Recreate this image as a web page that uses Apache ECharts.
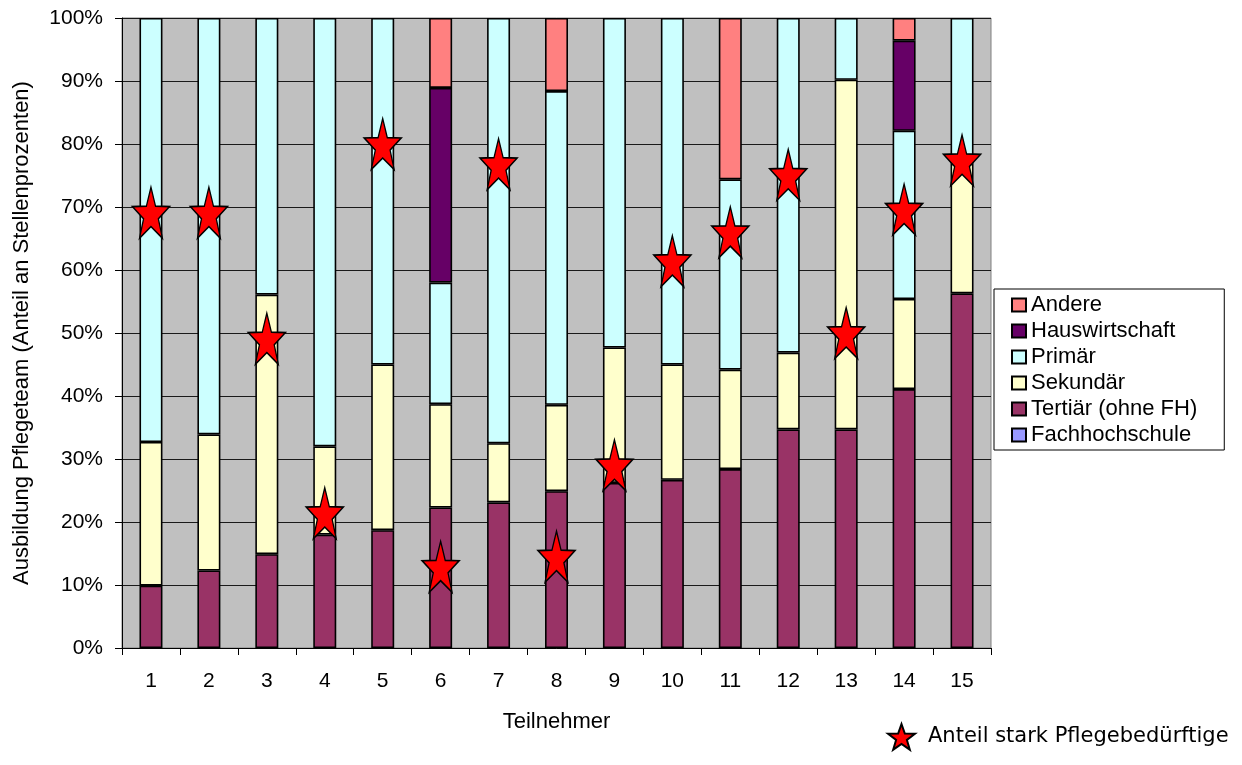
<!DOCTYPE html>
<html>
<head>
<meta charset="utf-8">
<script src="https://cdn.jsdelivr.net/npm/echarts@6/dist/echarts.min.js"></script>
<style>
  html, body { margin: 0; padding: 0; background: #ffffff; }
  #chart { width: 1242px; height: 765px; }
</style>
</head>
<body>
<div id="chart"></div>
<script>
// Teilnehmer 1..15
const participants = ['1','2','3','4','5','6','7','8','9','10','11','12','13','14','15'];

// Ausbildung Pflegeteam, Anteil an Stellenprozenten (%)
const fachhochschule = [0,0,0,0,0,0,0,0,0,0,0,0,0,0,0];
const tertiaer       = [9.9,12.3,14.9,18.0,18.7,22.3,23.1,24.9,26.2,26.7,28.4,34.7,34.7,41.1,56.3];
const sekundaer      = [22.8,21.6,41.2,14.0,26.3,16.4,9.4,13.7,21.5,18.3,15.8,12.2,55.5,14.3,20.6];
const primaer        = [67.3,66.1,43.9,68.0,55.0,19.3,67.5,49.8,52.3,55.0,30.2,53.1,9.8,26.7,23.1];
const hauswirtschaft = [0,0,0,0,0,30.9,0,0,0,0,0,0,0,14.3,0];
const andere         = [0,0,0,0,0,11.1,0,11.6,0,0,25.6,0,0,3.6,0];

// Anteil stark Pflegebedürftige (%)
const pflegebeduerftige = [69.1,69.1,49.1,21.4,80.0,12.9,76.8,14.5,29.0,61.4,66.0,75.1,50.0,69.6,77.4];

const yTicks = [0,10,20,30,40,50,60,70,80,90,100];

// five-pointed star outline as an SVG path
function starPath(inner) {
  const pts = [];
  for (let i = 0; i < 10; i++) {
    const a = (-90 + 36 * i) * Math.PI / 180;
    const r = i % 2 === 0 ? 1 : inner;
    pts.push((r * Math.cos(a)).toFixed(4) + ' ' + (r * Math.sin(a)).toFixed(4));
  }
  return 'path://M' + pts.join(' L') + ' Z';
}
const STAR = starPath(0.4);

const stackSeries = [
  { name: 'Fachhochschule',    data: fachhochschule, color: '#9999ff' },
  { name: 'Tertiär (ohne FH)', data: tertiaer,       color: '#993366' },
  { name: 'Sekundär',          data: sekundaer,      color: '#ffffcc' },
  { name: 'Primär',            data: primaer,        color: '#ccffff' },
  { name: 'Hauswirtschaft',    data: hauswirtschaft, color: '#660066' },
  { name: 'Andere',            data: andere,         color: '#ff8080' }
];

const font = 'Liberation Sans, Arial, Helvetica, sans-serif';

const series = stackSeries.map(s => ({
  name: s.name,
  type: 'bar',
  stack: 'ausbildung',
  barWidth: 23,
  data: s.data.map(v => (v === 0 ? null : v)),
  itemStyle: { color: s.color, borderColor: '#000000', borderWidth: 1.6 }
}));

series.push({
  name: 'Anteil stark Pflegebedürftige',
  type: 'scatter',
  z: 5,
  symbol: STAR,
  symbolSize: [37, 51],
  data: pflegebeduerftige,
  itemStyle: { color: '#ff0000', borderColor: '#000000', borderWidth: 1.5, opacity: 1 }
});

const chart = echarts.init(document.getElementById('chart'), null, { renderer: 'canvas' });
chart.setOption({
  animation: false,
  backgroundColor: '#ffffff',
  grid: {
    left: 122, right: 251, top: 18, bottom: 117,
    show: true, backgroundColor: '#c0c0c0', borderColor: '#808080', borderWidth: 1
  },
  xAxis: {
    type: 'category',
    data: participants,
    name: 'Teilnehmer',
    nameLocation: 'middle',
    nameGap: 63,
    nameTextStyle: { fontFamily: font, fontSize: 22, color: '#000' },
    axisLine: { lineStyle: { color: '#000', width: 1 } },
    axisTick: { show: true, length: 7, lineStyle: { color: '#000' } },
    axisLabel: { fontFamily: font, fontSize: 21, color: '#000', margin: 23 },
    splitLine: { show: false }
  },
  yAxis: {
    type: 'value',
    min: yTicks[0],
    max: yTicks[yTicks.length - 1],
    interval: 10,
    name: 'Ausbildung Pflegeteam (Anteil an Stellenprozenten)',
    nameLocation: 'middle',
    nameGap: 89,
    nameTextStyle: { fontFamily: font, fontSize: 22, color: '#000' },
    axisLine: { show: true, lineStyle: { color: '#000', width: 1 } },
    axisTick: { show: true, length: 7, lineStyle: { color: '#000' } },
    axisLabel: { fontFamily: font, fontSize: 21, color: '#000', margin: 19, formatter: '{value}%' },
    splitLine: { show: true, lineStyle: { color: '#1a1a1a', width: 1 } }
  },
  legend: [
    {
      data: ['Andere', 'Hauswirtschaft', 'Primär', 'Sekundär', 'Tertiär (ohne FH)', 'Fachhochschule'],
      orient: 'vertical',
      left: 994,
      top: 289,
      padding: [5, 27, 4, 17],
      itemGap: 4,
      itemWidth: 14,
      itemHeight: 13,
      itemTextGap: 8,
      icon: 'rect',
      borderColor: '#000',
      borderWidth: 1,
      backgroundColor: '#ffffff',
      textStyle: { fontFamily: font, fontSize: 22, color: '#000' }
    },
    {
      data: ['Anteil stark Pflegebedürftige'],
      orient: 'horizontal',
      left: 887,
      top: 723,
      padding: 0,
      itemWidth: 27,
      itemHeight: 31,
      itemTextGap: 5,
      textStyle: {
        fontFamily: 'DejaVu Sans, Verdana, sans-serif', fontSize: 21, color: '#000',
        padding: [0, 0, 0, 8]
      }
    }
  ],
  series: series
});
</script>
</body>
</html>
